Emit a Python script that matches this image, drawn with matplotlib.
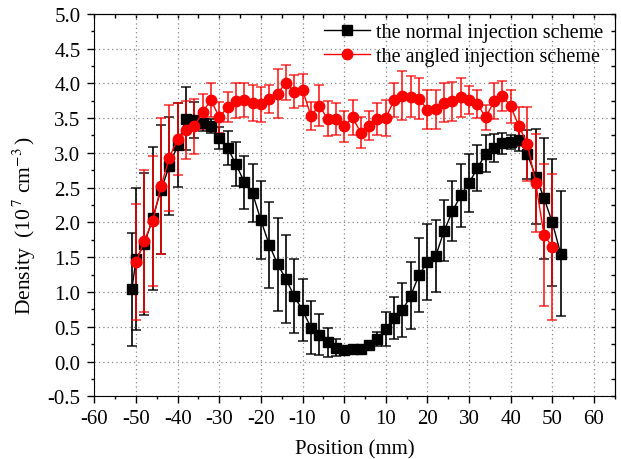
import matplotlib
matplotlib.use("Agg")
import matplotlib.pyplot as plt
from matplotlib.ticker import MultipleLocator

# 数据
normal_x = [-51, -50, -48, -46, -44, -42, -40, -38, -36, -34, -32, -30, -28, -26,
            -24, -22, -20, -18, -16, -14, -12, -10, -8, -6, -4, -2, 0, 2, 4, 6,
            8, 10, 12, 14, 16, 18, 20, 22, 24, 26, 28, 30, 32, 34, 36, 38, 40,
            42, 44, 46, 48, 50, 52]
normal_y = [1.04, 1.47, 1.69, 2.06, 2.47, 2.81, 3.11, 3.49, 3.47, 3.43, 3.39, 3.21,
            3.07, 2.84, 2.58, 2.42, 2.03, 1.68, 1.40, 1.19, 0.94, 0.74, 0.49, 0.39,
            0.28, 0.20, 0.17, 0.18, 0.18, 0.24, 0.33, 0.47, 0.63, 0.74, 0.95, 1.25,
            1.43, 1.52, 1.88, 2.16, 2.39, 2.57, 2.78, 2.99, 3.07, 3.14, 3.15, 3.18,
            2.98, 2.66, 2.35, 2.00, 1.55]
normal_err = [0.81, 1.02, 1.02, 1.03, 0.93, 0.70, 0.60, 0.45, 0.26, 0.12, 0.10, 0.16,
              0.24, 0.31, 0.38, 0.42, 0.56, 0.62, 0.67, 0.63, 0.53, 0.45, 0.38, 0.30,
              0.21, 0.12, 0.06, 0.05, 0.05, 0.06, 0.10, 0.25, 0.30, 0.39, 0.48, 0.53,
              0.55, 0.52, 0.44, 0.43, 0.45, 0.42, 0.33, 0.27, 0.20, 0.15, 0.10, 0.15,
              0.35, 0.68, 0.87, 0.91, 0.90]

angled_x = [-50, -48, -46, -44, -42, -40, -38, -36, -34, -32, -30, -28, -26, -24,
            -22, -20, -18, -16, -14, -12, -10, -8, -6, -4, -2, 0, 2, 4, 6, 8, 10,
            12, 14, 16, 18, 20, 22, 24, 26, 28, 30, 32, 34, 36, 38, 40, 42, 44, 46,
            48, 50]
angled_y = [1.43, 1.74, 2.02, 2.52, 2.93, 3.20, 3.33, 3.38, 3.59, 3.76, 3.51, 3.66,
            3.75, 3.76, 3.72, 3.70, 3.78, 3.85, 4.01, 3.88, 3.91, 3.53, 3.68, 3.49,
            3.48, 3.38, 3.51, 3.29, 3.39, 3.48, 3.50, 3.76, 3.82, 3.81, 3.78, 3.62,
            3.63, 3.72, 3.74, 3.80, 3.76, 3.70, 3.51, 3.74, 3.82, 3.67, 3.38, 3.13,
            2.57, 1.82, 1.65]
angled_err = [0.83, 1.02, 0.94, 0.98, 0.76, 0.52, 0.42, 0.40, 0.25, 0.24, 0.22, 0.22,
              0.25, 0.25, 0.26, 0.25, 0.20, 0.35, 0.25, 0.24, 0.23, 0.20, 0.29, 0.25,
              0.23, 0.22, 0.25, 0.22, 0.21, 0.23, 0.26, 0.25, 0.35, 0.30, 0.30, 0.28,
              0.28, 0.28, 0.28, 0.28, 0.20, 0.20, 0.18, 0.26, 0.22, 0.24, 0.28, 0.53,
              0.70, 1.02, 1.05]

plt.rcParams['font.family'] = ['Liberation Serif', 'DejaVu Serif']
plt.rcParams['mathtext.fontset'] = 'stix'
plt.rcParams['axes.unicode_minus'] = False
plt.rcParams['font.size'] = 15

fig = plt.figure(figsize=(6.21, 4.60), dpi=100)
ax = fig.add_axes([0.152, 0.136, 0.838, 0.832])

# 误差棒
ax.errorbar(normal_x, normal_y, yerr=normal_err, fmt='none', ecolor='black',
            elinewidth=1.4, capsize=3.5, capthick=1.2, alpha=0.85, zorder=2)
ax.errorbar(angled_x, angled_y, yerr=angled_err, fmt='none', ecolor='red',
            elinewidth=1.4, capsize=3.5, capthick=1.2, alpha=0.75, zorder=3)

# 曲线
ax.plot(normal_x, normal_y, color='black', lw=1.0, marker='s', markersize=7,
        label='the normal injection scheme', zorder=4)
ax.plot(angled_x, angled_y, color='red', lw=1.0, marker='o', markersize=7.5,
        label='the angled injection scheme', zorder=5)

ax.set_xlim(-60, 65)
ax.set_ylim(-0.5, 5.0)
ax.xaxis.set_major_locator(MultipleLocator(10))
ax.xaxis.set_minor_locator(MultipleLocator(5))
ax.yaxis.set_major_locator(MultipleLocator(0.5))
ax.yaxis.set_minor_locator(MultipleLocator(0.25))
ax.set_xticks(range(-60, 61, 10))
ax.xaxis.set_major_formatter(plt.FuncFormatter(lambda v, p: '%d' % v))
ax.yaxis.set_major_formatter(plt.FuncFormatter(lambda v, p: '%.1f' % v))

ax.grid(True, which='major', linestyle=(0, (1, 2.5)), color='#888888', lw=0.9)
ax.tick_params(which='major', direction='out', length=5, width=1, labelsize=15)
ax.tick_params(which='minor', direction='out', length=2.5, width=1)
ax.tick_params(axis='y', which='major', pad=5)
ax.tick_params(axis='x', which='major', pad=4)

# 上/右侧刻度朝内
top = ax.secondary_xaxis('top')
top.xaxis.set_major_locator(MultipleLocator(10))
top.xaxis.set_minor_locator(MultipleLocator(5))
top.tick_params(which='both', direction='in', length=3, width=1, labeltop=False)
right = ax.secondary_yaxis('right')
right.yaxis.set_major_locator(MultipleLocator(0.5))
right.yaxis.set_minor_locator(MultipleLocator(0.25))
right.tick_params(which='both', direction='in', length=3, width=1, labelright=False)

ax.set_xlabel('Position (mm)', fontsize=15, labelpad=8)
ax.set_ylabel(r'Density  (10$^{\,7}$ cm$^{-3}\,$)', fontsize=15.5)
ax.yaxis.set_label_coords(-0.108, 0.45)

ax.legend(loc='upper right', bbox_to_anchor=(1.005, 1.013), frameon=False,
          fontsize=14.5, handlelength=2.3, handletextpad=0.3, labelspacing=0.25,
          borderpad=0.2)

fig.savefig('out.png', dpi=100)
